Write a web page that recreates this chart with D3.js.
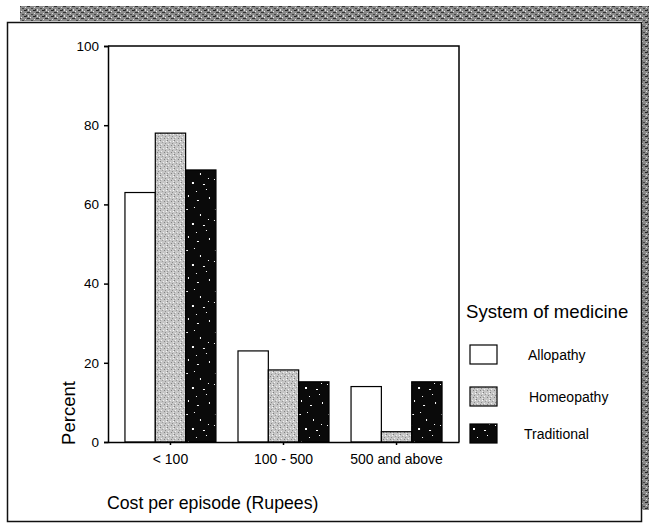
<!DOCTYPE html>
<html>
<head>
<meta charset="utf-8">
<script src="https://cdn.jsdelivr.net/npm/d3@7"></script>
<style>
  html, body { margin: 0; padding: 0; background: #fff; }
  svg { display: block; font-family: "Liberation Sans", Arial, Helvetica, sans-serif; }
</style>
</head>
<body>
<svg id="chart" width="649" height="526"></svg>
<script>
// ---- data ----
const categories = ["< 100", "100 - 500", "500 and above"];
const seriesNames = ["Allopathy", "Homeopathy", "Traditional"];
const allopathy   = [63, 23, 14];
const homeopathy  = [78, 18.2, 2.6];
const traditional = [68.7, 15.2, 15.2];
const yTicks = [0, 20, 40, 60, 80, 100];
const legendTitle = "System of medicine";
const xTitle = "Cost per episode (Rupees)";
const yTitle = "Percent";

const series = [allopathy, homeopathy, traditional];

const svg = d3.select("#chart");
const defs = svg.append("defs");

// patterns
const pHomeo = defs.append("pattern").attr("id", "homeo")
  .attr("patternUnits", "userSpaceOnUse").attr("width", 7).attr("height", 7);
pHomeo.append("rect").attr("width", 7).attr("height", 7).attr("fill", "#c6c6c6");
[[0,0,"#7a7a7a"],[3,1,"#eeeeee"],[5,3,"#8a8a8a"],[1,4,"#f2f2f2"],[4,5,"#808080"],[6,6,"#e8e8e8"],[2,2,"#999"],[6,1,"#fafafa"],[0,5,"#999"]]
  .forEach(([x,y,c]) => pHomeo.append("rect").attr("x", x).attr("y", y).attr("width", 1).attr("height", 1).attr("fill", c));

const pTrad = defs.append("pattern").attr("id", "trad")
  .attr("patternUnits", "userSpaceOnUse").attr("width", 29).attr("height", 41);
pTrad.append("rect").attr("width", 29).attr("height", 41).attr("fill", "#0a0a0a");
[[3,4,2,1],[17,9,1,2],[9,18,2,2],[23,25,1,1],[5,31,1,2],[14,36,2,1],[25,14,1,1],[11,2,1,1],[20,20,2,1],[2,15,1,1],[26,33,1,2],[13,27,1,1]]
  .forEach(([x,y,w,h]) => pTrad.append("rect").attr("x", x).attr("y", y).attr("width", w).attr("height", h).attr("fill", "#fff"));

const pScan = defs.append("pattern").attr("id", "scan")
  .attr("patternUnits", "userSpaceOnUse").attr("width", 9).attr("height", 6);
pScan.append("rect").attr("width", 9).attr("height", 6).attr("fill", "#8a8a8a");
[[0,0,3,1,"#333"],[4,2,2,1,"#444"],[1,3,1,2,"#ddd"],[6,4,2,1,"#222"],[7,1,1,1,"#e0e0e0"],[3,5,1,1,"#eee"],[8,3,1,2,"#3a3a3a"]]
  .forEach(([x,y,w,h,c]) => pScan.append("rect").attr("x", x).attr("y", y).attr("width", w).attr("height", h).attr("fill", c));

const fills = ["#ffffff", "url(#homeo)", "url(#trad)"];

// scan-edge textures and outer frame
svg.append("rect").attr("x", 20).attr("y", 6).attr("width", 629).attr("height", 15).attr("fill", "url(#scan)");
svg.append("rect").attr("x", 642).attr("y", 6).attr("width", 7).attr("height", 504).attr("fill", "url(#scan)");
svg.append("rect").attr("x", 7.5).attr("y", 22.5).attr("width", 634).attr("height", 499)
  .attr("fill", "none").attr("stroke", "#111").attr("stroke-width", 1.5);

// plot geometry
const plotL = 108, plotR = 459, plotT = 46, plotB = 442;

const x0 = d3.scaleBand().domain(categories).range([plotL, plotR])
  .paddingInner(0.195).paddingOuter(0.15);
const x1 = d3.scaleBand().domain(seriesNames).range([0, x0.bandwidth()]).padding(0);
const y = d3.scaleLinear().domain([0, 100]).range([plotB, plotT]);

// bars
categories.forEach((cat, ci) => {
  const g = svg.append("g").attr("transform", `translate(${x0(cat)},0)`);
  seriesNames.forEach((s, si) => {
    const v = series[si][ci];
    g.append("rect")
      .attr("x", x1(s)).attr("y", y(v))
      .attr("width", x1.bandwidth()).attr("height", y(0) - y(v))
      .attr("fill", fills[si]).attr("stroke", "#000").attr("stroke-width", 1.2);
  });
});

// plot frame (top and right)
svg.append("path")
  .attr("d", `M${plotL},${plotT}H${plotR}V${plotB}`)
  .attr("fill", "none").attr("stroke", "#000").attr("stroke-width", 1.5);

// y axis
const yAxis = svg.append("g").attr("transform", `translate(${plotL},0)`)
  .call(d3.axisLeft(y).tickValues(yTicks).tickSize(4).tickPadding(5));
yAxis.select(".domain").attr("stroke-width", 1.5);
yAxis.selectAll(".tick line").attr("stroke-width", 1.5);
yAxis.selectAll("text").attr("font-size", 13.5).attr("fill", "#000")
  .attr("font-family", "Liberation Sans, Arial, sans-serif");

// x axis
const xAxis = svg.append("g").attr("transform", `translate(0,${plotB})`)
  .call(d3.axisBottom(x0).tickSize(3).tickPadding(9).tickSizeOuter(0));
xAxis.select(".domain").attr("stroke-width", 1.5);
xAxis.selectAll(".tick line").attr("stroke-width", 1.5);
xAxis.selectAll("text").attr("font-size", 14).attr("fill", "#000")
  .attr("font-family", "Liberation Sans, Arial, sans-serif");

// axis titles
svg.append("text").attr("x", 107).attr("y", 509).attr("font-size", 17.7).attr("fill", "#000").text(xTitle);
svg.append("text").attr("transform", "translate(75,413) rotate(-90)")
  .attr("text-anchor", "middle").attr("font-size", 18.5).attr("fill", "#000").text(yTitle);

// legend
svg.append("text").attr("x", 466).attr("y", 318).attr("font-size", 18.6).attr("fill", "#000").text(legendTitle);
const legY = [345, 387, 424];
const legTextX = [528, 529, 524];
seriesNames.forEach((s, i) => {
  svg.append("rect").attr("x", 470).attr("y", legY[i]).attr("width", 27).attr("height", 19)
    .attr("fill", fills[i]).attr("stroke", "#000").attr("stroke-width", 1.2);
  svg.append("text").attr("x", legTextX[i]).attr("y", legY[i] + 15)
    .attr("font-size", 14).attr("fill", "#000").text(s);
});
</script>
</body>
</html>
